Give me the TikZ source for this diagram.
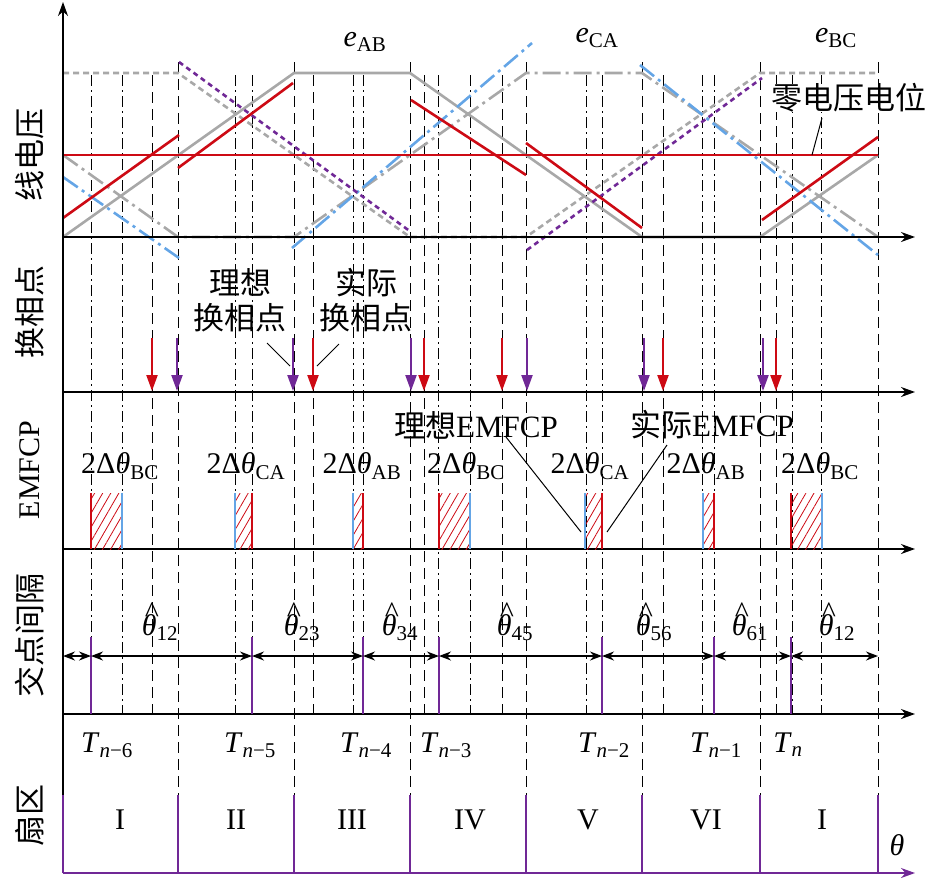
\documentclass[tikz,border=0pt]{standalone}
\usepackage{fontspec}
\setmainfont{Liberation Serif}
\newfontfamily\cjk{Noto Sans CJK SC}
\usetikzlibrary{arrows.meta,patterns.meta}
\definecolor{gr}{RGB}{168,168,168}
\definecolor{rd}{RGB}{205,10,20}
\definecolor{bl}{RGB}{100,165,230}
\definecolor{pu}{RGB}{112,40,150}
\newcommand{\sbs}[1]{\textsubscript{#1}}
\newcommand{\iti}[1]{\textit{#1}}
\newcommand{\hth}{\rlap{\hspace{0.1em}\raisebox{0.42em}{\textasciicircum}}\textit{θ}}
\tikzset{
 ax/.style={line width=1.6pt,-{Stealth[length=14pt,width=10pt]}},
 wv/.style={line width=2.6pt},
 sec/.style={line width=1pt,dash pattern=on 11pt off 6pt},
 dd/.style={line width=1pt,dash pattern=on 11pt off 4pt on 2pt off 4pt},
 arr/.style={line width=2.2pt,-{Triangle[length=16pt,width=11pt]}},
 lab/.style={font=\fontsize{30}{32}\selectfont,inner sep=1pt},
 clab/.style={font=\cjk\fontsize{31}{35}\selectfont,inner sep=1pt},
 hat/.style={pattern={Lines[angle=60,distance=7pt,line width=0.8pt]},pattern color=rd}
}
\begin{document}
\begin{tikzpicture}[x=1pt,y=-1pt]
\useasboundingbox (0,0) rectangle (934,881);
% vertical guides
\foreach \x in {178,294,410,526,642,760,878} \draw[sec] (\x,62)--(\x,795);
\foreach \x in {152,313,424,502,663,776} \draw[sec] (\x,75)--(\x,714);
\foreach \x in {91,122,235,252,353,363,438,470,586,602,702,714,792,821} \draw[dd] (\x,75)--(\x,714);
% waveforms
\draw[wv,gr,dash pattern=on 6pt off 4pt] (63,73)--(178,73)--(410,237)--(526,237)--(760,73)--(878,73);
\draw[wv,gr,dash pattern=on 18pt off 5pt on 3pt off 5pt] (63,155)--(178,237)--(294,237)--(526,73)--(642,73)--(878,237);
\draw[wv,gr] (63,237)--(294,73)--(410,73)--(642,237)--(760,237)--(878,155);
\draw[wv,bl,dash pattern=on 18pt off 5pt on 3pt off 5pt] (63,177)--(179,258);
\draw[wv,bl,dash pattern=on 18pt off 5pt on 3pt off 5pt] (292,248)--(532,43);
\draw[wv,bl,dash pattern=on 18pt off 5pt on 3pt off 5pt] (640,65)--(878,255);
\draw[wv,pu,dash pattern=on 5pt off 4pt] (179,62)--(411,232);
\draw[wv,pu,dash pattern=on 5pt off 4pt] (527,250)--(762,78);
\draw[wv,rd] (63,155)--(878,155);
\draw[wv,rd] (63,218)--(179,135);
\draw[wv,rd] (178,168)--(293,83);
\draw[wv,rd] (411,100)--(526,175);
\draw[wv,rd] (526,143)--(642,228);
\draw[wv,rd] (762,220)--(878,137);
% axes
\draw[ax] (63,873)--(63,2);
\foreach \y in {237,392,549,714} \draw[ax] (63,\y)--(915,\y);
\draw[ax,pu] (63,873)--(915,873);
% labels top
\node[lab] (eab) at (365,42) {\iti{e}\sbs{AB}};
\node[lab] (eca) at (597,38) {\iti{e}\sbs{CA}};
\node[lab] (ebc) at (836,38) {\iti{e}\sbs{BC}};
\node[clab,fill=white,inner sep=0pt] (zero) at (849,98) {零电压电位};
\draw[line width=1pt] (822,118)--(812,155);
% commutation arrows
\foreach \x in {152,313,424,502,663,776} \draw[arr,rd] (\x,338)--(\x,391);
\foreach \x in {177,293,411,527,644,763} \draw[arr,pu] (\x,338)--(\x,391);
\node[clab,align=center] (ideal) at (240,300) {理想\\换相点};
\node[clab,align=center] (actual) at (366,300) {实际\\换相点};
\draw[line width=1pt] (267,343)--(290,366);
\draw[line width=1pt] (339,344)--(317,366);
% EMFCP hatches
\foreach \a/\b/\cl/\cr in {91/122/rd/bl,235/252/bl/rd,353/363/bl/rd,439/470/rd/bl,585/602/bl/rd,703/714/bl/rd,791/822/rd/bl}{
 \fill[hat] (\a,493) rectangle (\b,549);
 \draw[line width=2pt,\cl] (\a,493)--(\a,549);
 \draw[line width=2pt,\cr] (\b,493)--(\b,549);
}
\foreach \x/\s in {120/BC,246/CA,362/AB,466/BC,590/CA,706/AB,820/BC}
 \node[lab] at (\x,466) {2Δ\iti{θ}\sbs{\s}};
\node[clab] (iemf) at (476,425) {理想\textrm{EMFCP}};
\node[clab] (aemf) at (712,425) {实际\textrm{EMFCP}};
\draw[line width=1pt] (506,437)--(581,532);
\draw[line width=1pt] (667,445)--(607,532);
% intervals
\foreach \x in {91,252,363,439,602,714,791} \draw[line width=2pt,pu] (\x,637)--(\x,714);
\foreach \a/\b in {63/91,91/252,252/363,363/439,439/602,602/714,714/791,791/878}
 \draw[line width=1.4pt,{Stealth[length=12pt,width=9pt]}-{Stealth[length=12pt,width=9pt]}] (\a,656)--(\b,656);
\foreach \x/\s in {160/12,302/23,400/34,515/45,654/56,750/61,837/12}
 \node[lab] at (\x,622) {\hth\sbs{\s}};
\foreach \x/\s in {107/{\iti{n}−6},250/{\iti{n}−5},366/{\iti{n}−4},446/{\iti{n}−3},604/{\iti{n}−2},716/{\iti{n}−1},788/{\iti{n}}}
 \node[lab] at (\x,745) {\iti{T}\sbs{\s}};
% sectors
\foreach \x in {63,178,294,410,526,642,760,878} \draw[line width=2pt,pu] (\x,795)--(\x,873);
\foreach \x/\s in {120/I,236/II,352/III,470/IV,588/V,706/VI,822/I}
 \node[lab] at (\x,820) {\s};
\node[lab] (th) at (897,845) {\iti{θ}};
% y labels
\node[clab,rotate=90] at (30,155) {线电压};
\node[clab,rotate=90] at (30,312) {换相点};
\node[lab,rotate=90] at (30,470) {EMFCP};
\node[clab,rotate=90] at (30,635) {交点间隔};
\node[clab,rotate=90] at (30,815) {扇区};
\end{tikzpicture}
\end{document}
